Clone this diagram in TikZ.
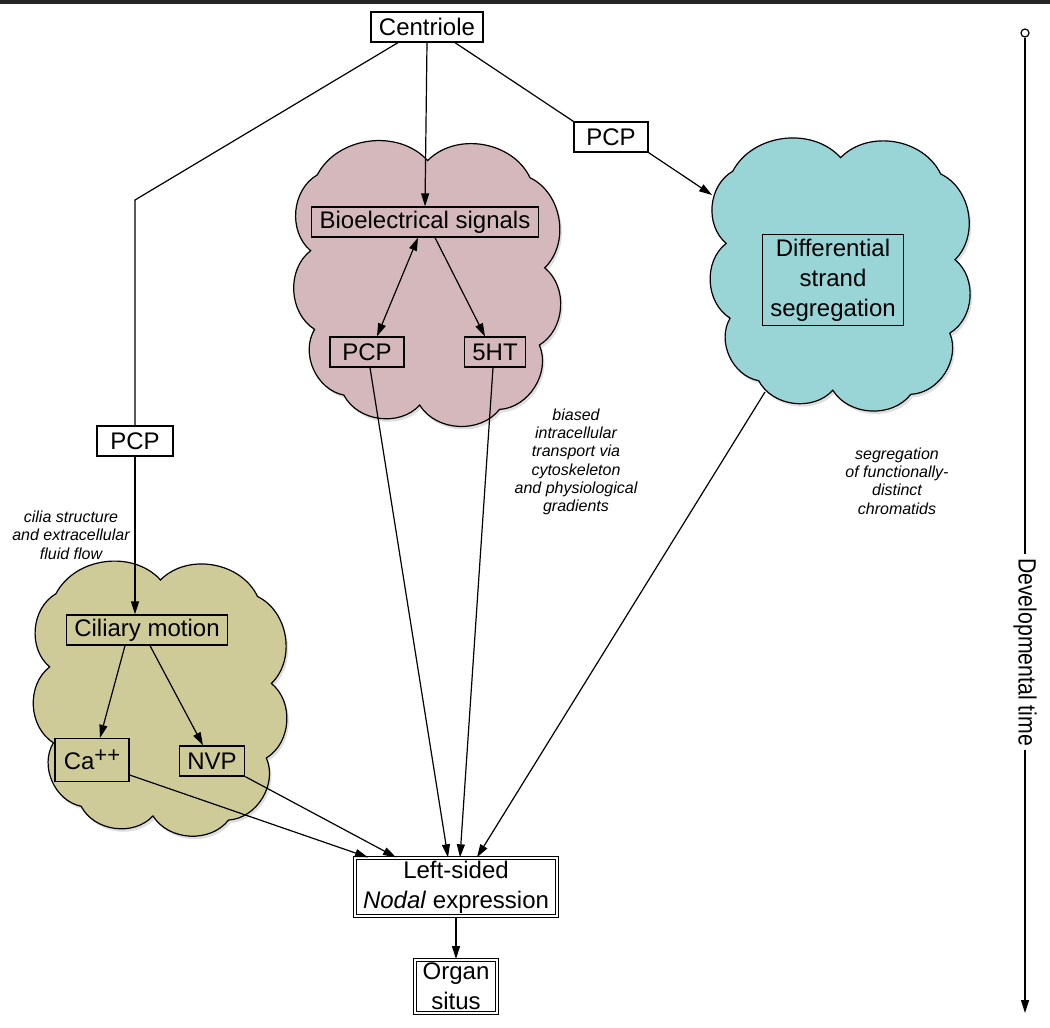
\documentclass[tikz,border=0pt]{standalone}
\usepackage{fontspec}
\setmainfont{Liberation Sans}
\usetikzlibrary{arrows.meta,shadows}
\definecolor{pinkcloud}{RGB}{213,184,188}
\definecolor{cyancloud}{RGB}{153,212,215}
\definecolor{olivecloud}{RGB}{207,203,152}

\begin{document}
\begin{tikzpicture}[x=1pt, y=-1pt,
					box/.style={draw, line width=1.3pt, inner xsep=8pt, inner ysep=0pt, minimum height=30pt, align=center, font=\fontsize{24}{30}\selectfont},
					dbox/.style={box, line width=1pt, double, double distance=2pt, inner ysep=3pt},
					pics/blob/.style n args={3}{code={\path[draw, line width=1.2pt, fill=#1, x=#2pt, y=-#3pt,
						drop shadow={opacity=0.25, shadow xshift=2pt, shadow yshift=-3pt}]
						(-0.81,-0.77) to[bend left=55] (0.02,-0.87) to[bend left=55] (0.79,-0.75) to[bend left=55] (0.90,-0.12)
						to[bend left=55] (0.86,0.42) to[bend left=55] (0.56,0.87) to[bend left=55] (-0.04,0.84) to[bend left=55] (-0.61,0.77)
						to[bend left=55] (-0.83,0.31) to[bend left=55] (-0.86,-0.24) to[bend left=55] cycle;}},
					note/.style={font=\fontsize{16}{18.3}\selectfont\itshape, align=center},
					conn/.style={line width=1.2pt, -{Triangle[length=13pt, width=8pt]}}]
	\useasboundingbox (0,0) rectangle (1050,1028);
	\fill[black!85] (0,0) rectangle (1050,4);

	\pic at (425,285) {blob={pinkcloud}{133}{143}};
	\pic at (838,276) {blob={cyancloud}{130}{136}};
	\pic at (158,700) {blob={olivecloud}{126}{138}};

	\node[box] (cen) at (427,27) {Centriole};
	\node[box, minimum width=76pt] (pcpLeft) at (135,441) {PCP};
	\node[box, minimum width=74pt] (pcpRight) at (611,137) {PCP};
	\node[box] (bio) at (425,222) {Bioelectrical signals};
	\node[box, minimum width=74pt] (pcpMid) at (367,352) {PCP};
	\node[box] (ht) at (495,352) {5HT};
	\node[box, inner ysep=4pt] (dss) at (833,280) {Differential\\strand\\segregation};
	\node[box] (cil) at (147,630) {Ciliary motion};
	\node[box, minimum height=43pt, minimum width=74pt] (ca) at (92,760) {Ca\raisebox{7pt}{\fontsize{22}{22}\selectfont ++}};
	\node[box] (nvp) at (212,761) {NVP};
	\node[dbox] (nodal) at (456,887) {Left-sided\\\textit{Nodal} expression};
	\node[dbox] (organ) at (456,986) {Organ\\situs};

	\node[note] (ciliaNote) at (71,535) {cilia structure\\and extracellular\\fluid flow};
	\node[note] (bioNote) at (576,462) {biased\\intracellular\\transport via\\cytoskeleton\\and physiological\\gradients};
	\node[note] (dssNote) at (897,481) {segregation\\of functionally-\\distinct\\chromatids};

	\coordinate (bendLeft) at (135,200);
	\coordinate (dssIn) at (712,195);
	\coordinate (dssOut) at (765,392);
	\draw[line width=1.2pt] ([xshift=-29pt]cen.south) -- (bendLeft) -- (pcpLeft.north);
	\draw[conn] (pcpLeft.south) -- (pcpLeft.south |- cil.north);
	\draw[conn] (cen.south) -- (bio.north);
	\draw[line width=1.2pt] ([xshift=28pt]cen.south) -- (pcpRight.north west);
	\draw[conn] (pcpRight.south east) -- (dssIn);

	\draw[conn, {Triangle[length=13pt, width=8pt]}-{Triangle[length=13pt, width=8pt]}] ([xshift=-7pt]bio.south) -- ([xshift=10pt]pcpMid.north);
	\draw[conn] ([xshift=10pt]bio.south) -- ([xshift=-10pt]ht.north);
	\draw[conn] ([xshift=3pt]pcpMid.south) -- ([xshift=-8pt]nodal.north);
	\draw[conn] ([xshift=-2pt]ht.south) -- ([xshift=4pt]nodal.north);
	\draw[conn] (dssOut) -- ([xshift=21pt]nodal.north);

	\draw[conn] ([xshift=-22pt]cil.south) -- ([xshift=8pt]ca.north);
	\draw[conn] ([xshift=3pt]cil.south) -- ([xshift=-9pt]nvp.north);
	\draw[conn] ([yshift=-15pt]ca.east) -- ([xshift=-88pt]nodal.north);
	\draw[conn] (nvp.south east) -- ([xshift=-60pt]nodal.north);
	\draw[conn] (nodal.south) -- (organ.north);

	\node[circle, draw, line width=1.2pt, inner sep=0pt, minimum size=8pt] (t0) at (1025,33) {};
	\node[rotate=-90, inner sep=4pt, font=\fontsize{25}{28}\selectfont] (tLabel) at (1025,652) {\scalebox{0.85}[1]{Developmental time}};
	\coordinate (tEnd) at (1025,1013);
	\draw[line width=1.2pt] (t0.south) -- (tLabel.west);
	\draw[conn] (tLabel.east) -- (tEnd);
\end{tikzpicture}
\end{document}
